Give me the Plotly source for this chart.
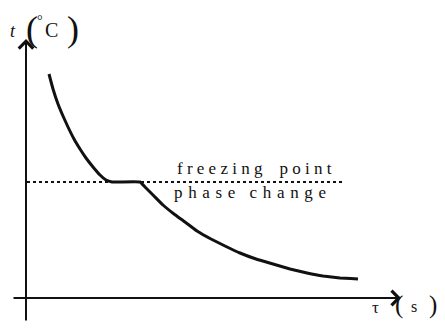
import plotly.graph_objects as go

# Cooling curve (tau in arbitrary time units, t in arbitrary temperature units)
tau_curve = [23, 27, 32, 37, 42, 48, 54, 60, 67, 74, 80, 86, 114, 120, 128, 137, 148, 159, 171,
             185, 199, 214, 230, 247, 264, 281, 297, 314, 332]
t_curve = [224, 209, 194, 182, 171, 159, 149, 140, 131, 123, 118, 116, 116, 110, 102, 93, 84, 76, 67,
           59, 52, 45, 39, 34, 29, 25, 22, 20, 19]

freezing_t = 116
freezing_line_tau = [1, 316]

x_axis_tau = [-14, 375]
y_axis_t = [-24, 259]

LS = "\u2004"  # three-per-em space between letters
WS = "\u2002\u2004"  # wider gap between words
label_freezing = "f r e e z i n g\u00a0\u00a0\u00a0 p o i n t"
label_phase = LS.join(list("phase")) + WS + LS.join(list("change"))

SERIF = "Liberation Serif, Times New Roman, serif"

fig = go.Figure()

# dotted freezing point line
fig.add_trace(go.Scatter(
    x=freezing_line_tau, y=[freezing_t, freezing_t], mode="lines",
    line=dict(color="#111111", width=2, dash="3px,3px"), hoverinfo="skip", showlegend=False))

# cooling curve
fig.add_trace(go.Scatter(
    x=tau_curve, y=t_curve, mode="lines",
    line=dict(color="#111111", width=3, shape="spline", smoothing=0.3),
    hoverinfo="skip", showlegend=False))

annotations = []
# axes as arrows
annotations.append(dict(x=x_axis_tau[1], y=0, ax=x_axis_tau[0], ay=0, xref="x", yref="y",
                        axref="x", ayref="y", text="", showarrow=True, arrowhead=4,
                        arrowsize=1.4, arrowwidth=2, arrowcolor="#111111", standoff=0))
annotations.append(dict(x=0, y=y_axis_t[1], ax=0, ay=y_axis_t[0], xref="x", yref="y",
                        axref="x", ayref="y", text="", showarrow=True, arrowhead=4,
                        arrowsize=1.4, arrowwidth=2, arrowcolor="#111111", standoff=0))

def lab(text, x, y, size, xanchor="center", yanchor="middle", italic=False):
    annotations.append(dict(text=text, x=x, y=y, xref="x", yref="y", showarrow=False,
                            xanchor=xanchor, yanchor=yanchor, borderpad=0,
                            font=dict(family=SERIF, size=size, color="#111111",
                                      style="italic" if italic else "normal")))

lab(label_freezing, 150, 130, 17, xanchor="left")
lab(label_phase, 147, 106, 17, xanchor="left")

# y-axis label  t (°C )
lab("t", -13, 267, 18, italic=True)
lab("(", 6, 269, 36)
lab("°", 14, 278, 14)
lab("C", 25, 268, 20)
lab(")", 47, 269, 36)

# x-axis label  τ (s )
lab("τ", 349, -9, 17)
lab("(", 373, -7, 25)
lab("s", 388, -8, 16)
lab(")", 407, -7, 25)

# The page body has an 8px margin, so the figure is 8px smaller than the window
fig.update_layout(
    width=437, height=327,
    margin=dict(l=0, r=0, t=0, b=0),
    paper_bgcolor="white", plot_bgcolor="white",
    xaxis=dict(range=[-18, 419], visible=False, fixedrange=True),
    yaxis=dict(range=[-37, 290], visible=False, fixedrange=True),
    annotations=annotations,
    showlegend=False,
)

fig.write_html("out.html", config={"displayModeBar": False})
